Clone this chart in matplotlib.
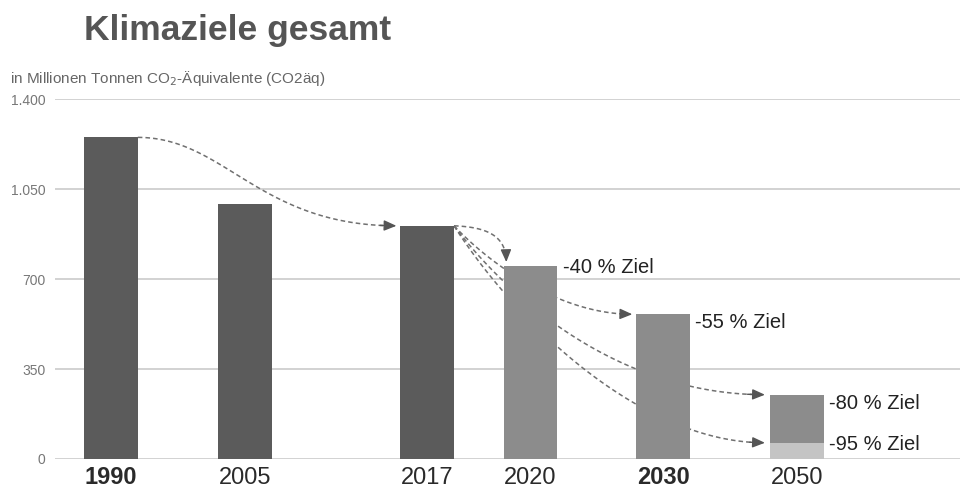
"""
Klimaziele gesamt - Balkendiagramm mit gestrichelten Pfeilen
"""

import numpy as np
import matplotlib
matplotlib.use('Agg')
import matplotlib.pyplot as plt

plt.rcParams['font.family'] = ['Liberation Sans', 'DejaVu Sans']

# Daten (Mio. t CO2-Äquivalente)
jahre = ['1990', '2005', '2017', '2020', '2030', '2050']
werte = [1251, 993, 907, 751, 563, 250]
ziel_95 = 63
fett = ['1990', '2030']
ziel_texte = ['-40 % Ziel', '-55 % Ziel', '-80 % Ziel', '-95 % Ziel']

# Positionen der Balken auf der x-Achse (Layout, nicht gleichabständig)
pos = [0, 1.0, 2.36, 3.13, 4.12, 5.12]
breite = 0.40

dunkel = '#5b5b5b'
mittel = '#8c8c8c'
hell = '#c4c4c4'

fig = plt.figure(figsize=(9.6, 4.91), dpi=100)
ax = fig.add_axes([0.0573, 0.0652, 0.9427, 0.733])

farben = [dunkel, dunkel, dunkel, mittel, mittel, mittel]
ax.bar(pos, werte, width=breite, color=farben, zorder=3)
# hellerer Teil fuer das -95 % Ziel
ax.bar(pos[5], ziel_95, width=breite, color=hell, zorder=3.5)

ax.set_xlim(-0.418, 6.336)
ax.set_ylim(0, 1400)
ax.set_yticks([0, 350, 700, 1050, 1400])
ax.set_yticklabels(['0', '350', '700', '1.050', '1.400'])
ax.yaxis.grid(True, color='#d2d2d2', linewidth=1.4, zorder=0)
ax.set_axisbelow(True)
for s in ax.spines.values():
    s.set_visible(False)
ax.tick_params(axis='y', length=0, pad=7, labelsize=10, labelcolor='#777777')
ax.tick_params(axis='x', length=0, pad=18, labelsize=17, labelcolor='#2a2a2a')
ax.set_xticks(pos)
ax.set_xticklabels(jahre)
for lab in ax.get_xticklabels():
    lab.set_verticalalignment('baseline')
    if lab.get_text() in fett:
        lab.set_fontweight('bold')


def bezier(p0, p1, p2, p3, n=100):
    t = np.linspace(0, 1, n)[:, None]
    p0, p1, p2, p3 = map(np.array, (p0, p1, p2, p3))
    return ((1 - t) ** 3 * p0 + 3 * (1 - t) ** 2 * t * p1
            + 3 * (1 - t) * t ** 2 * p2 + t ** 3 * p3)


def pfeil(p0, p1, p2, p3, z=2):
    pts = bezier(p0, p1, p2, p3)
    ax.plot(pts[:-3, 0], pts[:-3, 1], linestyle=(0, (3, 2)), color='#707070',
            linewidth=1.1, zorder=z)
    ax.annotate('', xy=pts[-1], xytext=pts[-5],
                arrowprops=dict(arrowstyle='-|>,head_length=0.75,head_width=0.32',
                                color='#555555', lw=1.0, shrinkA=0, shrinkB=0),
                zorder=z + 0.1)


h = breite / 2
# 1990 -> 2017
start = (pos[0] + h, werte[0])
ende = (pos[2] - h - 0.03, werte[2])
pfeil(start, (pos[0] + 0.85, werte[0]), (pos[1] + 0.1, werte[2]), ende, z=4)

# 2017 -> 2020
s17 = (pos[2] + h, werte[2])
pfeil(s17, (pos[2] + 0.45, werte[2] - 5), (pos[3] - h + 0.02, werte[2] - 40),
      (pos[3] - h + 0.02, werte[3] + 15), z=4)
# 2017 -> 2030
pfeil(s17, (pos[2] + 0.47, werte[2] - 150), (pos[3] + 0.22, werte[4]),
      (pos[4] - h - 0.03, werte[4]))
# 2017 -> 2050 (-80 %)
pfeil(s17, (pos[2] + 0.62, werte[2] - 290), (pos[4] - 0.32, werte[5]),
      (pos[5] - h - 0.04, werte[5]))
# 2017 -> 2050 (-95 %)
pfeil(s17, (pos[2] + 0.65, werte[2] - 370), (pos[4] - 0.17, ziel_95),
      (pos[5] - h - 0.04, ziel_95))

# Beschriftungen der Ziele
ziel_y = [werte[3], werte[4], werte[5], ziel_95]
ziel_x = [pos[3], pos[4], pos[5], pos[5]]
versatz = [-8, -34, -36, -5]
for txt, x, y, d in zip(ziel_texte, ziel_x, ziel_y, versatz):
    ax.text(x + h + 0.04, y + d, txt, fontsize=14.5, color='#222222',
            va='center', ha='left', zorder=6)

fig.text(0.087, 0.938, 'Klimaziele gesamt', fontsize=25.5, fontweight='bold',
         color='#555555', va='center', ha='left')
fig.text(0.010, 0.841, 'in Millionen Tonnen CO$_2$-Äquivalente (CO2äq)',
         fontsize=11, color='#666666', va='center', ha='left')

plt.savefig('out.png', dpi=100, facecolor='white')
